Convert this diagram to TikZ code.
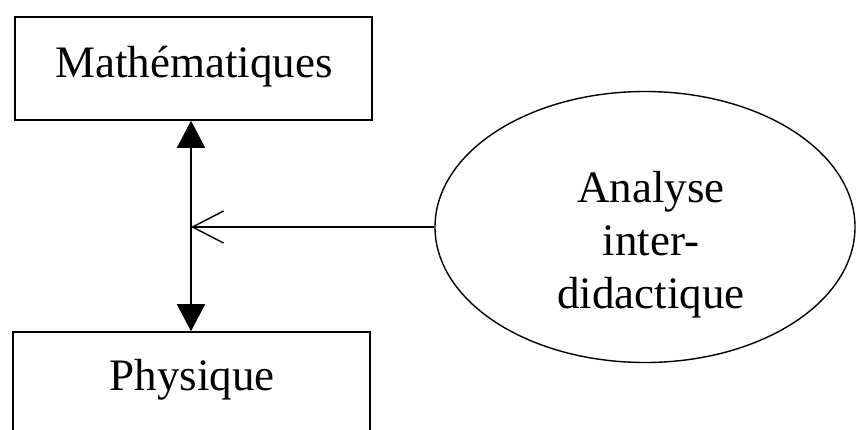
\documentclass[tikz,border=0pt]{standalone}
\usepackage{fontspec}
\setmainfont{Liberation Serif}
\usetikzlibrary{arrows.meta,shapes.geometric}
\begin{document}
\begin{tikzpicture}[x=1pt,y=-1pt,
  box/.style={draw, line width=1.6pt, inner sep=0pt},
  lbl/.style={font=\fontsize{45}{53}\selectfont, inner sep=0pt, align=center},
  oval/.style={draw, ellipse, line width=1.4pt, inner sep=0pt},
  conn/.style={line width=1.6pt}]
\clip (0,0) rectangle (856,429);
\fill[white] (0,0) rectangle (856,429);
% boxes
\node[box, minimum width=357pt, minimum height=103pt] (math) at (193.5,68.5) {};
\node[lbl, anchor=base] (matht) at (194,77) {Mathématiques};
\node[box, minimum width=357pt, minimum height=110pt] (phy) at (191.5,387) {};
\node[lbl, anchor=base] (phyt) at (192,390) {Physique};
% ellipse
\node[oval, minimum width=420pt, minimum height=271pt] (ana) at (645,227) {};
\node[lbl] (anat) at (651,245) {Analyse\\inter-\\didactique};
% connectors
\coordinate (top) at ([xshift=-2.5pt]math.south);
\coordinate (bot) at (top |- phy.north);
\coordinate (j) at (top |- ana.west);
\draw[conn, {Triangle[width=28pt,length=27pt]}-{Triangle[width=28pt,length=27pt]}] (top) -- (bot);
\draw[conn, -{Straight Barb[length=31pt,width=32pt,line width=1.4pt]}] (ana.west) -- (j);
\end{tikzpicture}
\end{document}
